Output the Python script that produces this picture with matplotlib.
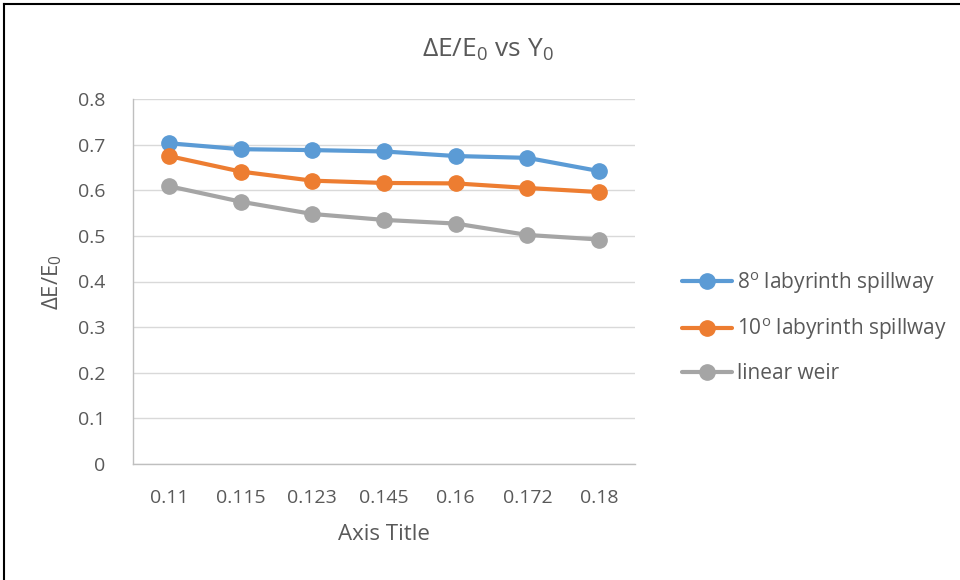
import matplotlib.pyplot as plt
from matplotlib.lines import Line2D

plt.rcParams['font.family'] = ['Open Sans', 'DejaVu Sans']
plt.rcParams['mathtext.fontset'] = 'custom'
plt.rcParams['mathtext.rm'] = 'Open Sans'
plt.rcParams['mathtext.it'] = 'Open Sans'

# depth categories along the x axis
y0_labels = ['0.11', '0.115', '0.123', '0.145', '0.16', '0.172', '0.18']

# relative energy loss for each spillway type
lab_8 = [0.703, 0.690, 0.688, 0.685, 0.675, 0.671, 0.642]
lab_10 = [0.675, 0.641, 0.621, 0.616, 0.615, 0.605, 0.596]
linear = [0.609, 0.575, 0.548, 0.535, 0.527, 0.502, 0.492]

series = [
    (lab_8, '8$^{\\mathregular{o}}$ labyrinth spillway', '#5b9bd5'),
    (lab_10, '10$^{\\mathregular{o}}$ labyrinth spillway', '#ed7d31'),
    (linear, 'linear weir', '#a5a5a5'),
]

txt = '#595959'

fig = plt.figure(figsize=(9.6, 5.8), dpi=100)
ax = fig.add_axes([133 / 960, 1 - 464 / 580, 502 / 960, 365 / 580])

x = list(range(len(y0_labels)))
for vals, label, color in series:
    ax.plot(x, vals, color=color, lw=3, marker='o', ms=11, label=label,
            solid_capstyle='round')

ax.set_xlim(-0.5, len(y0_labels) - 0.5)
ax.set_ylim(0, 0.8)
ax.set_yticks([i / 10 for i in range(9)])
ax.set_yticklabels(['0'] + ['%.1f' % (i / 10) for i in range(1, 9)])
ax.set_xticks(x)
ax.set_xticklabels(y0_labels)
ax.tick_params(length=0, labelsize=14, colors=txt)
ax.tick_params(axis='x', pad=18)
ax.tick_params(axis='y', pad=20)
ax.grid(axis='y', color='#d9d9d9', lw=1)
ax.set_axisbelow(True)
for s in ['top', 'right']:
    ax.spines[s].set_visible(False)
for s in ['left', 'bottom']:
    ax.spines[s].set_color('#bfbfbf')
    ax.spines[s].set_linewidth(1)

ax.set_xlabel('Axis Title', fontsize=16, color=txt, labelpad=12)
ax.set_ylabel('ΔE/E$_0$', fontsize=16, color=txt, labelpad=10)
fig.text(488 / 960, 1 - 50 / 580, 'ΔE/E$_0$ vs Y$_0$', fontsize=19, color=txt,
         ha='center', va='center')

fig.legend(loc='upper left', bbox_to_anchor=(663 / 960, 1 - 251 / 580),
           frameon=False, fontsize=15, labelcolor=txt, handlelength=2.4,
           labelspacing=1.0, handletextpad=0.25)

# chart frame edges
fig.add_artist(Line2D([4 / 960, 4 / 960], [0, 1 - 4 / 580], transform=fig.transFigure,
                      color='black', lw=1.5))
fig.add_artist(Line2D([4 / 960, 1], [1 - 4 / 580, 1 - 4 / 580], transform=fig.transFigure,
                      color='black', lw=1.5))

fig.savefig('out.png', dpi=100)
